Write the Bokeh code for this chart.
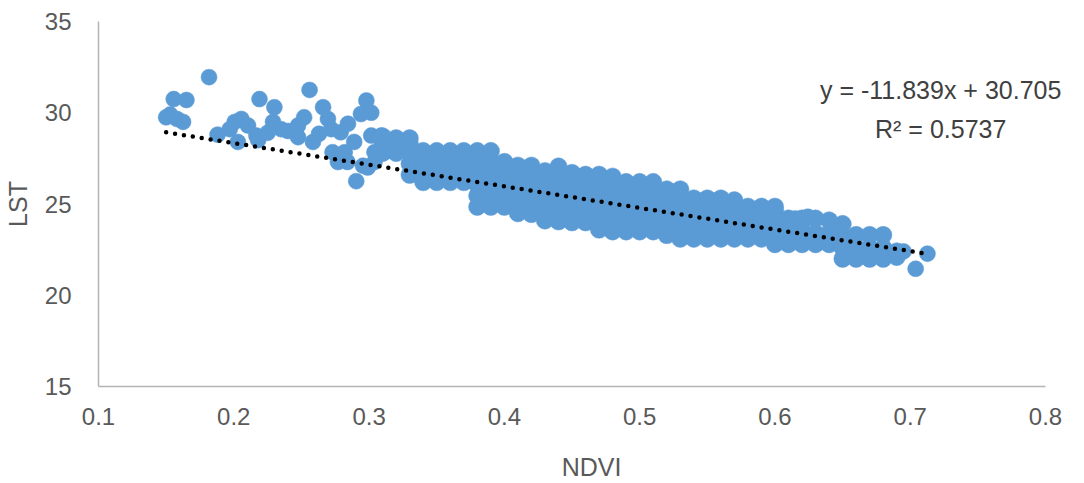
from bokeh.plotting import figure
from bokeh.models import ColumnDataSource, FixedTicker, Label
from bokeh.embed import file_html
from bokeh.resources import INLINE

# ---- axis ticks ----
x_ticks = [0.1, 0.2, 0.3, 0.4, 0.5, 0.6, 0.7, 0.8]
x_tick_labels = ["0.1", "0.2", "0.3", "0.4", "0.5", "0.6", "0.7", "0.8"]
y_ticks = [15, 20, 25, 30, 35]
y_tick_labels = ["15", "20", "25", "30", "35"]

# ---- sparse points (low NDVI) ----
sparse_ndvi = [0.150, 0.153, 0.1556, 0.158, 0.1625, 0.165, 0.1817, 0.188, 0.197, 0.2007,
               0.203, 0.2056, 0.2105, 0.2167, 0.218, 0.219, 0.225, 0.229, 0.230, 0.235,
               0.240, 0.2475, 0.2475, 0.252, 0.256, 0.2585, 0.263, 0.266, 0.2696, 0.272,
               0.273, 0.277, 0.279, 0.282, 0.2844, 0.284, 0.289, 0.2905, 0.294, 0.2955,
               0.298, 0.299, 0.3016, 0.3016, 0.304, 0.304, 0.309, 0.3114,
               0.615, 0.6243, 0.695, 0.704, 0.7127]
sparse_lst = [29.75, 29.9, 30.75, 29.66, 29.5, 30.7, 31.95, 28.8, 29.1, 29.5,
              28.4, 29.66, 29.3, 28.75, 28.5, 30.75, 28.9, 29.5, 30.3, 29.1,
              29.0, 29.3, 28.66, 29.75, 31.25, 28.4, 28.85, 30.3, 29.66, 29.1,
              27.84, 27.3, 28.93, 27.84, 29.4, 27.3, 28.4, 26.25, 29.93, 27.1,
              30.67, 27.0, 30.0, 28.75, 27.84, 27.3, 28.75, 27.84,
              24.2, 24.3, 22.4, 21.45, 22.28]

# ---- dense band: NDVI column -> LST values ----
band_ndvi = [0.31, 0.32, 0.33, 0.34, 0.35, 0.36, 0.37, 0.38, 0.39, 0.40,
             0.41, 0.42, 0.43, 0.44, 0.45, 0.46, 0.47, 0.48, 0.49, 0.50,
             0.51, 0.52, 0.53, 0.54, 0.55, 0.56, 0.57, 0.58, 0.59, 0.60,
             0.61, 0.62, 0.63, 0.64, 0.65, 0.66, 0.67, 0.68, 0.69]
band_lst = [
    [27.8, 28.3, 28.7],
    [27.8, 28.3, 28.6],
    [26.6, 27.2, 27.8, 28.3, 28.6],
    [26.2, 26.8, 27.4, 27.9],
    [26.2, 26.8, 27.4, 27.9],
    [26.2, 26.8, 27.4, 27.9],
    [26.2, 26.8, 27.4, 27.9],
    [24.85, 25.45, 26.05, 26.65, 27.3, 27.9],
    [24.85, 25.45, 26.05, 26.65, 27.3, 27.9],
    [24.85, 25.45, 26.05, 26.7, 27.3],
    [24.5, 25.1, 25.7, 26.3, 26.9, 27.1],
    [24.45, 25.05, 25.65, 26.25, 26.85, 27.1],
    [24.1, 24.7, 25.3, 25.9, 26.5, 26.8],
    [24.05, 24.65, 25.25, 25.85, 26.45, 27.05],
    [24.0, 24.6, 25.2, 25.8, 26.4, 26.7],
    [24.0, 24.6, 25.2, 25.8, 26.3, 26.6],
    [23.6, 24.2, 24.8, 25.4, 26.0, 26.6],
    [23.5, 24.1, 24.7, 25.3, 25.9, 26.5],
    [23.5, 24.1, 24.7, 25.3, 25.8, 26.2],
    [23.5, 24.1, 24.7, 25.3, 25.8, 26.2],
    [23.5, 24.1, 24.7, 25.3, 25.8, 26.2],
    [23.3, 23.9, 24.5, 25.1, 25.8],
    [23.1, 23.7, 24.3, 24.9, 25.4, 25.8],
    [23.1, 23.7, 24.3, 24.8, 25.3],
    [23.1, 23.7, 24.3, 24.8, 25.3],
    [23.1, 23.7, 24.3, 24.8, 25.3],
    [23.1, 23.7, 24.3, 24.85, 25.2],
    [23.1, 23.7, 24.3, 24.85],
    [23.1, 23.6, 24.2, 24.85],
    [22.8, 23.4, 24.0, 24.6, 24.85],
    [22.8, 23.4, 24.0, 24.2],
    [22.8, 23.4, 24.0, 24.2],
    [22.8, 23.4, 24.2],
    [22.8, 23.4, 24.1],
    [22.0, 22.6, 23.2, 23.9],
    [22.0, 22.6, 23.3],
    [22.0, 22.6, 23.3],
    [22.0, 22.6, 23.3],
    [22.1, 22.4],
]

# ---- trend line ----
trend_slope = -11.839
trend_intercept = 30.705
r_squared = 0.5737

band_x = []
band_y = []
for xv, col in zip(band_ndvi, band_lst):
    for yv in col:
        band_x.append(xv)
        band_y.append(yv)

sparse_src = ColumnDataSource(data=dict(ndvi=sparse_ndvi, lst=sparse_lst))
band_src = ColumnDataSource(data=dict(ndvi=band_x, lst=band_y))

FONT = "Liberation Sans"
TXT = "#595959"
BLUE = "#5B9BD5"

# x range runs a little past 0.8 so the equation text is not clipped;
# the axis line itself stops at 0.8 via bounds.
p = figure(width=1084, height=483, x_range=(0.1, 0.8288), y_range=(15, 35),
           output_backend="svg", toolbar_location=None,
           min_border_left=97, min_border_right=0, min_border_top=21, min_border_bottom=97)
p.outline_line_color = None
p.xgrid.grid_line_color = None
p.ygrid.grid_line_color = None
p.background_fill_color = "white"
p.border_fill_color = "white"

p.scatter("ndvi", "lst", source=band_src, marker="circle", size=17.5,
          fill_color=BLUE, line_color=BLUE, line_width=0.5)
p.scatter("ndvi", "lst", source=sparse_src, marker="circle", size=16,
          fill_color=BLUE, line_color=BLUE, line_width=0.5)

all_x = list(sparse_ndvi) + band_x
tx0 = min(all_x)
tx1 = max(all_x)
p.line([tx0, tx1], [trend_slope * tx0 + trend_intercept, trend_slope * tx1 + trend_intercept],
       line_color="black", line_width=4.5, line_dash="0 9", line_cap="round")

p.xaxis.ticker = FixedTicker(ticks=x_ticks)
p.yaxis.ticker = FixedTicker(ticks=y_ticks)
p.xaxis.major_label_overrides = {t: s for t, s in zip(x_ticks, x_tick_labels)}
p.yaxis.major_label_overrides = {t: s for t, s in zip(y_ticks, y_tick_labels)}
p.xaxis.bounds = (0.1, 0.8)

for ax in (p.xaxis[0], p.yaxis[0]):
    ax.axis_line_color = "#B4B4B4"
    ax.axis_line_width = 1.5
    ax.major_tick_line_color = None
    ax.minor_tick_line_color = None
    ax.major_tick_out = 0
    ax.major_tick_in = 0
    ax.minor_tick_out = 0
    ax.minor_tick_in = 0
    ax.major_label_text_font = FONT
    ax.major_label_text_font_size = "24px"
    ax.major_label_text_color = TXT
    ax.axis_label_text_font = FONT
    ax.axis_label_text_font_size = "25px"
    ax.axis_label_text_color = TXT
    ax.axis_label_text_font_style = "normal"

p.xaxis.axis_label = "NDVI"
p.yaxis.axis_label = "LST"
p.xaxis.major_label_standoff = 21
p.yaxis.major_label_standoff = 27
p.xaxis.axis_label_standoff = 25
p.yaxis.axis_label_standoff = 10

eq_text = "y = " + str(trend_slope) + "x + " + str(trend_intercept)
r2_text = "R\u00b2 = " + str(r_squared)
p.add_layout(Label(x=0.7225, y=31.25, text=eq_text, text_align="center",
                   text_baseline="middle", text_font=FONT, text_font_size="25px",
                   text_color="#404040"))
p.add_layout(Label(x=0.7225, y=29.1, text=r2_text, text_align="center",
                   text_baseline="middle", text_font=FONT, text_font_size="25px",
                   text_color="#404040"))

open("out.html", "w").write(file_html(p, INLINE))
